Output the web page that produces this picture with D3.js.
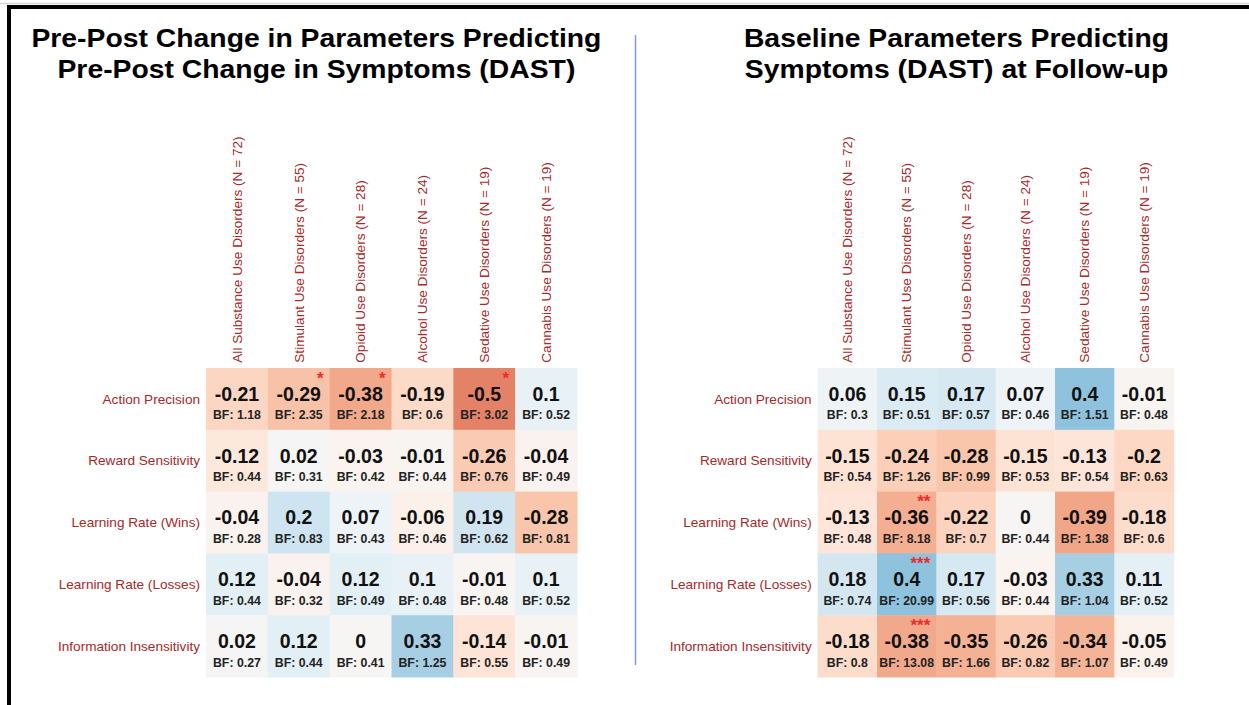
<!DOCTYPE html>
<html>
<head>
<meta charset="utf-8">
<script src="https://cdn.jsdelivr.net/npm/d3@7"></script>
<style>
  body { margin: 0; background: #fff; }
  svg { display: block; font-family: "Liberation Sans", Arial, sans-serif; }
</style>
</head>
<body>
<svg id="chart"></svg>
<script>
// group columns and parameter rows, same for both panels
const columns = [
    "All Substance Use Disorders (N = 72)",
    "Stimulant Use Disorders (N = 55)",
    "Opioid Use Disorders (N = 28)",
    "Alcohol Use Disorders (N = 24)",
    "Sedative Use Disorders (N = 19)",
    "Cannabis Use Disorders (N = 19)"
];
const rows = [
    "Action Precision",
    "Reward Sensitivity",
    "Learning Rate (Wins)",
    "Learning Rate (Losses)",
    "Information Insensitivity"
];

// left panel: pre-post change
const leftTitle = ["Pre-Post Change in Parameters Predicting", "Pre-Post Change in Symptoms (DAST)"];
const leftValues = [
    [-0.21, -0.29, -0.38, -0.19, -0.5, 0.1],
    [-0.12, 0.02, -0.03, -0.01, -0.26, -0.04],
    [-0.04, 0.2, 0.07, -0.06, 0.19, -0.28],
    [0.12, -0.04, 0.12, 0.1, -0.01, 0.1],
    [0.02, 0.12, 0, 0.33, -0.14, -0.01]
];
const leftBF = [
    [1.18, 2.35, 2.18, 0.6, 3.02, 0.52],
    [0.44, 0.31, 0.42, 0.44, 0.76, 0.49],
    [0.28, 0.83, 0.43, 0.46, 0.62, 0.81],
    [0.44, 0.32, 0.49, 0.48, 0.48, 0.52],
    [0.27, 0.44, 0.41, 1.25, 0.55, 0.49]
];
const leftStars = [
    ["", "*", "*", "", "*", ""],
    ["", "", "", "", "", ""],
    ["", "", "", "", "", ""],
    ["", "", "", "", "", ""],
    ["", "", "", "", "", ""]
];

// right panel: baseline -> follow-up
const rightTitle = ["Baseline Parameters Predicting", "Symptoms (DAST) at Follow-up"];
const rightValues = [
    [0.06, 0.15, 0.17, 0.07, 0.4, -0.01],
    [-0.15, -0.24, -0.28, -0.15, -0.13, -0.2],
    [-0.13, -0.36, -0.22, 0, -0.39, -0.18],
    [0.18, 0.4, 0.17, -0.03, 0.33, 0.11],
    [-0.18, -0.38, -0.35, -0.26, -0.34, -0.05]
];
const rightBF = [
    [0.3, 0.51, 0.57, 0.46, 1.51, 0.48],
    [0.54, 1.26, 0.99, 0.53, 0.54, 0.63],
    [0.48, 8.18, 0.7, 0.44, 1.38, 0.6],
    [0.74, 20.99, 0.56, 0.44, 1.04, 0.52],
    [0.8, 13.08, 1.66, 0.82, 1.07, 0.49]
];
const rightStars = [
    ["", "", "", "", "", ""],
    ["", "", "", "", "", ""],
    ["", "**", "", "", "", ""],
    ["", "***", "", "", "", ""],
    ["", "***", "", "", "", ""]
];

(function () {
    const width = 1249;
    const height = 705;
    const labelColor = "#a52a2a";

    const svg = d3.select("#chart")
        .attr("width", width)
        .attr("height", height);

    // RdBu, red = negative, blue = positive; centre pushed to white
    const rdbu = d3.schemeRdBu[11].slice();
    rdbu[5] = "#ffffff";
    const color = d3.scaleDiverging(d3.interpolateRgbBasis(rdbu)).domain([-1, 0, 1]);

    // slide frame
    svg.append("line")
        .attr("x1", 0).attr("x2", width)
        .attr("y1", 3.5).attr("y2", 3.5)
        .attr("stroke", "#d4d4d4")
        .attr("stroke-width", 1.5);
    svg.append("rect")
        .attr("x", 9).attr("y", 7)
        .attr("width", width + 40).attr("height", height + 40)
        .attr("fill", "none")
        .attr("stroke", "#000")
        .attr("stroke-width", 4);

    // divider between the two panels
    svg.append("line")
        .attr("x1", 635.5).attr("x2", 635.5)
        .attr("y1", 35).attr("y2", 665)
        .attr("stroke", "#7f9be0")
        .attr("stroke-width", 1.5);

    function drawPanel(p) {
        const x = d3.scaleBand().domain(columns).range([p.x0, p.x1]);
        const y = d3.scaleBand().domain(rows).range([368, 677]);
        const g = svg.append("g");

        // title, two lines
        g.selectAll(".title")
            .data(p.title)
            .join("text")
            .attr("class", "title")
            .attr("transform", (d, i) => `translate(${p.titleX},${46.7 + i * 31.7}) scale(1.09,1)`)
            .attr("text-anchor", "middle")
            .attr("font-size", 26)
            .attr("font-weight", "bold")
            .attr("fill", "#000")
            .text(d => d);

        const cells = rows.flatMap((r, i) => columns.map((c, j) => ({
            row: r, col: c,
            v: p.values[i][j], bf: p.bf[i][j], star: p.stars[i][j]
        })));

        g.selectAll(".cell")
            .data(cells)
            .join("rect")
            .attr("class", "cell")
            .attr("x", d => x(d.col))
            .attr("y", d => y(d.row))
            .attr("width", x.bandwidth() + 0.5)
            .attr("height", y.bandwidth() + 0.5)
            .attr("fill", d => color(d.v));

        g.selectAll(".val")
            .data(cells)
            .join("text")
            .attr("class", "val")
            .attr("x", d => x(d.col) + x.bandwidth() / 2)
            .attr("y", d => y(d.row) + 32.7)
            .attr("text-anchor", "middle")
            .attr("font-size", 19.5)
            .attr("font-weight", "bold")
            .attr("fill", "#111")
            .text(d => String(d.v));

        g.selectAll(".bf")
            .data(cells)
            .join("text")
            .attr("class", "bf")
            .attr("x", d => x(d.col) + x.bandwidth() / 2)
            .attr("y", d => y(d.row) + 51.3)
            .attr("text-anchor", "middle")
            .attr("font-size", 12.3)
            .attr("font-weight", "bold")
            .attr("fill", "#222")
            .text(d => "BF: " + d.bf);

        // significance stars sit in the top-right corner of the cell
        g.selectAll(".star")
            .data(cells.filter(d => d.star))
            .join("text")
            .attr("class", "star")
            .attr("x", d => x(d.col) + x.bandwidth() - 6)
            .attr("y", d => y(d.row) + 15.5)
            .attr("text-anchor", "end")
            .attr("font-size", 17)
            .attr("font-weight", "bold")
            .attr("fill", "#f02a2a")
            .text(d => d.star);

        // row labels
        g.selectAll(".rowlab")
            .data(rows)
            .join("text")
            .attr("class", "rowlab")
            .attr("x", p.x0 - 6)
            .attr("y", d => y(d) + y.bandwidth() / 2)
            .attr("dy", "0.35em")
            .attr("text-anchor", "end")
            .attr("font-size", 13.6)
            .attr("fill", labelColor)
            .text(d => d);

        // column labels, rotated
        g.selectAll(".collab")
            .data(columns)
            .join("text")
            .attr("class", "collab")
            .attr("transform", d => `translate(${x(d) + x.bandwidth() / 2},362.7) rotate(-90)`)
            .attr("dy", "0.35em")
            .attr("text-anchor", "start")
            .attr("font-size", 13.6)
            .attr("fill", labelColor)
            .text(d => d);
    }

    drawPanel({
        title: leftTitle, titleX: 316.4,
        x0: 206, x1: 577,
        values: leftValues, bf: leftBF, stars: leftStars
    });

    drawPanel({
        title: rightTitle, titleX: 956.5,
        x0: 817.7, x1: 1173.7,
        values: rightValues, bf: rightBF, stars: rightStars
    });
})();
</script>
</body>
</html>
